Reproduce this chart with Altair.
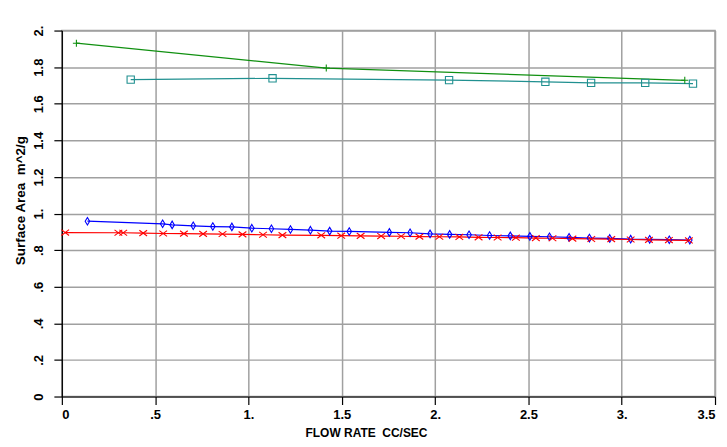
import altair as alt
import pandas as pd

# ---- data ----
green_x = [0.078, 1.417, 3.338]
green_y = [1.931, 1.795, 1.728]

teal_x = [0.369, 1.129, 2.075, 2.591, 2.836, 3.126, 3.382]
teal_y = [1.732, 1.739, 1.729, 1.720, 1.714, 1.714, 1.710]

blue_x = [0.137, 0.540, 0.591, 0.704, 0.809, 0.911, 1.018, 1.123, 1.225, 1.332,
          1.435, 1.540, 1.755, 1.866, 1.973, 2.078, 2.182, 2.292, 2.403, 2.508,
          2.613, 2.718, 2.827, 2.936, 3.048, 3.150, 3.255, 3.365]
blue_y = [0.958, 0.944, 0.938, 0.933, 0.929, 0.927, 0.920, 0.917, 0.913, 0.909,
          0.904, 0.902, 0.897, 0.895, 0.889, 0.886, 0.884, 0.880, 0.878, 0.875,
          0.873, 0.870, 0.866, 0.864, 0.860, 0.859, 0.857, 0.855]

red_x = [0.018, 0.303, 0.329, 0.436, 0.543, 0.654, 0.757, 0.861, 0.968, 1.078,
         1.182, 1.390, 1.497, 1.601, 1.711, 1.818, 1.916, 2.023, 2.130, 2.233,
         2.335, 2.433, 2.540, 2.629, 2.736, 2.837, 2.944, 3.048, 3.146, 3.253, 3.360]
red_y = [0.896, 0.895, 0.895, 0.893, 0.891, 0.890, 0.889, 0.888, 0.886, 0.884,
         0.882, 0.881, 0.879, 0.878, 0.877, 0.876, 0.874, 0.873, 0.872, 0.870,
         0.869, 0.868, 0.866, 0.865, 0.863, 0.861, 0.860, 0.858, 0.856, 0.855, 0.853]

x_ticks = [0, 0.5, 1, 1.5, 2, 2.5, 3, 3.5]
y_ticks = [0, 0.2, 0.4, 0.6, 0.8, 1, 1.2, 1.4, 1.6, 1.8, 2]

series_names = ["green", "teal", "blue", "red"]
series_colors = ["#109010", "#209090", "#0000ff", "#ff0000"]
series_shapes = [
    "M-1,0L1,0M0,-1L0,1",               # plus
    "square",                            # square
    "M0,-1L0.6,0L0,1L-0.6,0Z",          # narrow diamond
    "M-1,-0.75L1,0.75M-1,0.75L1,-0.75",  # x
]
series_sizes = [50, 60, 70, 45]

frames = []
for name, xs, ys in [("green", green_x, green_y), ("teal", teal_x, teal_y),
                     ("blue", blue_x, blue_y), ("red", red_x, red_y)]:
    frames.append(pd.DataFrame({"x": xs, "y": ys, "series": name}))
df = pd.concat(frames, ignore_index=True)

FONT = "Liberation Sans"
LABEL_EXPR = ("datum.value == 0 ? '0' : (datum.value < 1 ? replace(format(datum.value, '.1f'), '0.', '.') : "
              "(datum.value % 1 == 0 ? format(datum.value, 'd') + '.' : format(datum.value, '.1f')))")

x_enc = alt.X("x:Q",
              scale=alt.Scale(domain=[0, 3.5], nice=False, zero=True),
              axis=alt.Axis(
                  title="FLOW RATE\u00a0\u00a0CC/SEC",
                  values=x_ticks,
                  labelExpr=LABEL_EXPR,
                  labelOverlap=False,
                  titleX=305, titleAnchor="start", titleAlign="center",
                  titlePadding=6, labelPadding=4,
              ))
y_enc = alt.Y("y:Q",
              scale=alt.Scale(domain=[0, 2], nice=False),
              axis=alt.Axis(
                  title="Surface Area\u00a0\u00a0m^2/g",
                  titleFontSize=13.5,
                  values=y_ticks,
                  tickCount=11,
                  labelExpr=LABEL_EXPR,
                  labelOverlap=False,
                  labelAngle=270, labelAlign="center", labelBaseline="bottom",
                  labelPadding=8, titlePadding=5,
                  titleY=170, titleAnchor="start", titleAlign="center",
              ))

color = alt.Color("series:N", scale=alt.Scale(domain=series_names, range=series_colors), legend=None)
shape = alt.Shape("series:N", scale=alt.Scale(domain=series_names, range=series_shapes), legend=None)
size = alt.Size("series:N", scale=alt.Scale(domain=series_names, range=series_sizes), legend=None)

base = alt.Chart(df)
lines = base.mark_line(strokeWidth=1.2).encode(x=x_enc, y=y_enc, color=color, detail="series:N")
points = base.mark_point(filled=False, strokeWidth=1.1, opacity=1).encode(
    x=x_enc, y=y_enc, color=color, shape=shape, size=size)

chart = alt.layer(lines, points).properties(
    width=655, height=367,
    autosize=alt.AutoSizeParams(type="none"),
    padding={"left": 54, "top": 22, "right": 4, "bottom": 48},
    background="white",
).configure_view(stroke="#a0a0a0", strokeWidth=1.5).configure_axis(
    grid=True, gridColor="#a0a0a0", gridWidth=1.5, gridOpacity=1,
    domainColor="#000000", domainWidth=1.2,
    tickColor="#000000", tickSize=8, tickWidth=1.2,
    labelFont=FONT, labelFontSize=13, labelFontWeight="bold", labelColor="#000000",
    titleFont=FONT, titleFontSize=12, titleFontWeight="bold", titleColor="#000000",
)

chart.save("out.html", embed_options={"renderer": "svg", "actions": False})
